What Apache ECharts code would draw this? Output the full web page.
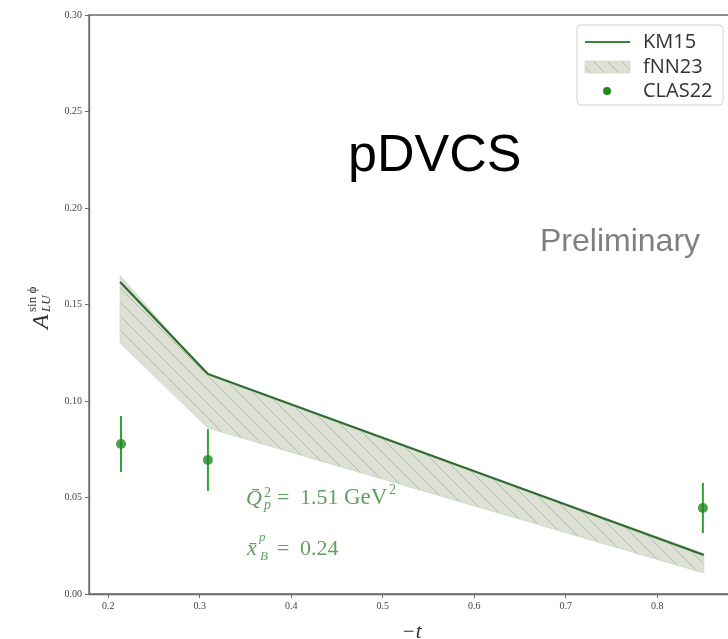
<!DOCTYPE html>
<html>
<head>
<meta charset="utf-8">
<script src="https://cdn.jsdelivr.net/npm/echarts@6/dist/echarts.min.js"></script>
<style>
  html, body { margin: 0; padding: 0; background: #fff; }
  #chart { width: 728px; height: 639px; }
</style>
</head>
<body>
<div id="chart"></div>
<script>
// -t values where the model curves are evaluated
const modelT = [0.213, 0.309, 0.851];
// KM15 prediction of A_LU^{sin phi}
const km15 = [0.1617, 0.1140, 0.0202];
// fNN23 uncertainty band (upper and lower edges)
const fnnUpper = [0.1650, 0.1130, 0.0210];
const fnnLower = [0.1300, 0.0860, 0.0109];
// CLAS22 measurements with errors
const clasT = [0.214, 0.309, 0.850];
const clasA = [0.0777, 0.0694, 0.0446];
const clasErr = [0.0145, 0.0160, 0.0130];
// axis ticks
const xTicks = [0.2, 0.3, 0.4, 0.5, 0.6, 0.7, 0.8];
const yTicks = [0.00, 0.05, 0.10, 0.15, 0.20, 0.25, 0.30];

const serif = '"Liberation Serif", "DejaVu Serif", serif';
const sans = 'Arial, "Liberation Sans", sans-serif';
const lineGreen = '#2e6b2e';
const dotGreen = '#1f8a1f';
const barGreen = '#35a035';
const noteGreen = '#5f9f5f';

// hatched fill for the fNN23 band
function hatchPattern() {
  const s = 14;
  const c = document.createElement('canvas');
  c.width = s; c.height = s;
  const g = c.getContext('2d');
  g.fillStyle = '#dde0d5';
  g.fillRect(0, 0, s, s);
  g.strokeStyle = '#b5b9ab';
  g.lineWidth = 1;
  g.beginPath();
  g.moveTo(-2, -2); g.lineTo(s + 2, s + 2);
  g.moveTo(-2, s - 2); g.lineTo(2, s + 2);
  g.moveTo(s - 2, -2); g.lineTo(s + 2, 2);
  g.stroke();
  return { image: c, repeat: 'repeat' };
}
const hatch = hatchPattern();

const bandData = modelT.map((t, i) => [t, fnnUpper[i], fnnLower[i]]);
const clasData = clasT.map((t, i) => [t, clasA[i], clasErr[i]]);

const chart = echarts.init(document.getElementById('chart'));

// text placed by its baseline
function txt(x, baseline, text, size, italic, color) {
  return {
    type: 'text', x: x, y: baseline - 0.26 * size,
    style: {
      text: text, font: (italic ? 'italic ' : '') + size + 'px ' + serif,
      fill: color || noteGreen, textVerticalAlign: 'middle', textAlign: 'left'
    }
  };
}

const option = {
  animation: false,
  backgroundColor: '#fff',
  grid: {
    left: 89, top: 15, width: 645, bottom: 45,
    outerBoundsMode: 'none', containLabel: false,
    show: true, borderColor: '#6a6a6a', borderWidth: 1.3, backgroundColor: 'transparent'
  },
  xAxis: {
    type: 'value', min: 0.179, max: 0.884,
    splitLine: { show: false },
    axisLine: { lineStyle: { color: '#6a6a6a', width: 1.3 } },
    axisTick: { show: true, length: 4, customValues: xTicks, lineStyle: { color: '#6a6a6a' } },
    axisLabel: {
      customValues: xTicks, margin: 7, color: '#444',
      fontFamily: serif, fontSize: 10,
      formatter: v => v.toFixed(1)
    },
    name: '\u2212t', nameLocation: 'middle', nameGap: 28,
    nameTextStyle: { fontFamily: serif, fontStyle: 'italic', fontSize: 21, color: '#333' }
  },
  yAxis: {
    type: 'value', min: 0, max: 0.30,
    splitLine: { show: false },
    axisLine: { show: true, lineStyle: { color: '#6a6a6a', width: 1.3 } },
    axisTick: { show: true, length: 4, customValues: yTicks, lineStyle: { color: '#6a6a6a' } },
    axisLabel: {
      customValues: yTicks, margin: 7, color: '#444',
      fontFamily: serif, fontSize: 10,
      formatter: v => v.toFixed(2)
    }
  },
  series: [
    {
      name: 'fNN23', type: 'custom',
      data: bandData,
      renderItem: function (params, api) {
        if (params.dataIndex !== 0) return null;
        const up = bandData.map(d => api.coord([d[0], d[1]]));
        const lo = bandData.map(d => api.coord([d[0], d[2]])).reverse();
        return {
          type: 'polygon',
          shape: { points: up.concat(lo) },
          style: { fill: hatch, stroke: '#c9d7c0', lineWidth: 0.8 }
        };
      },
      z: 1
    },
    {
      name: 'KM15', type: 'line',
      data: modelT.map((t, i) => [t, km15[i]]),
      symbol: 'none',
      lineStyle: { color: lineGreen, width: 2.2 },
      z: 3
    },
    {
      name: 'CLAS22 errors', type: 'custom',
      data: clasData,
      renderItem: function (params, api) {
        const t = api.value(0), a = api.value(1), e = api.value(2);
        const p1 = api.coord([t, a + e]);
        const p2 = api.coord([t, a - e]);
        return {
          type: 'line',
          shape: { x1: p1[0], y1: p1[1], x2: p2[0], y2: p2[1] },
          style: { stroke: barGreen, lineWidth: 2 }
        };
      },
      z: 4
    },
    {
      name: 'CLAS22', type: 'scatter',
      data: clasData.map(d => [d[0], d[1]]),
      symbol: 'circle', symbolSize: 10,
      itemStyle: { color: dotGreen },
      z: 5
    }
  ],
  graphic: [
    // y-axis title A_LU^{sin phi}, rotated to read upwards
    {
      type: 'group', x: 48, y: 329, rotation: Math.PI / 2,
      children: [
        txt(0, 0, 'A', 24, true, '#333'),
        txt(17, 2, 'LU', 13, true, '#333'),
        txt(17, -12, 'sin \u03d5', 13, false, '#333')
      ]
    },
    // process label and status
    { type: 'text', x: 348, y: 131, style: { text: 'pDVCS', font: '52px ' + sans, fill: '#000', textVerticalAlign: 'top' } },
    { type: 'text', x: 540, y: 226, style: { text: 'Preliminary', font: '32px ' + sans, fill: '#808080', textVerticalAlign: 'top' } },
    // kinematics
    txt(246, 505, 'Q\u0304', 22, true),
    txt(264, 497, '2', 14),
    txt(264, 509, 'p', 14, true),
    txt(277, 504, '=', 22),
    txt(300, 504, '1.51', 22),
    txt(344, 504, 'GeV', 23),
    txt(389, 494, '2', 14),
    txt(247, 555, 'x\u0304', 22, true),
    txt(259, 541, 'p', 13, true),
    txt(260, 560, 'B', 13, true),
    txt(277, 555, '=', 22),
    txt(300, 555, '0.24', 22),
    // legend
    {
      type: 'group', x: 0, y: 0,
      children: [
        { type: 'rect', shape: { x: 577, y: 25, width: 146, height: 80, r: 4 }, style: { fill: 'rgba(255,255,255,0.85)', stroke: '#d4d4d4', lineWidth: 1 } },
        { type: 'line', shape: { x1: 585, y1: 42, x2: 630, y2: 42 }, style: { stroke: '#3f7f3f', lineWidth: 2.2 } },
        { type: 'rect', shape: { x: 585, y: 61, width: 45, height: 12 }, style: { fill: hatch, stroke: '#d7dccf', lineWidth: 0.8 } },
        { type: 'circle', shape: { cx: 607, cy: 91, r: 4 }, style: { fill: dotGreen } },
        { type: 'text', x: 643, y: 42, style: { text: 'KM15', font: '20px "Open Sans", sans-serif', fill: '#333', textVerticalAlign: 'middle' } },
        { type: 'text', x: 643, y: 67, style: { text: 'fNN23', font: '20px "Open Sans", sans-serif', fill: '#333', textVerticalAlign: 'middle' } },
        { type: 'text', x: 643, y: 91, style: { text: 'CLAS22', font: '20px "Open Sans", sans-serif', fill: '#333', textVerticalAlign: 'middle' } }
      ]
    }
  ]
};

chart.setOption(option);
</script>
</body>
</html>
